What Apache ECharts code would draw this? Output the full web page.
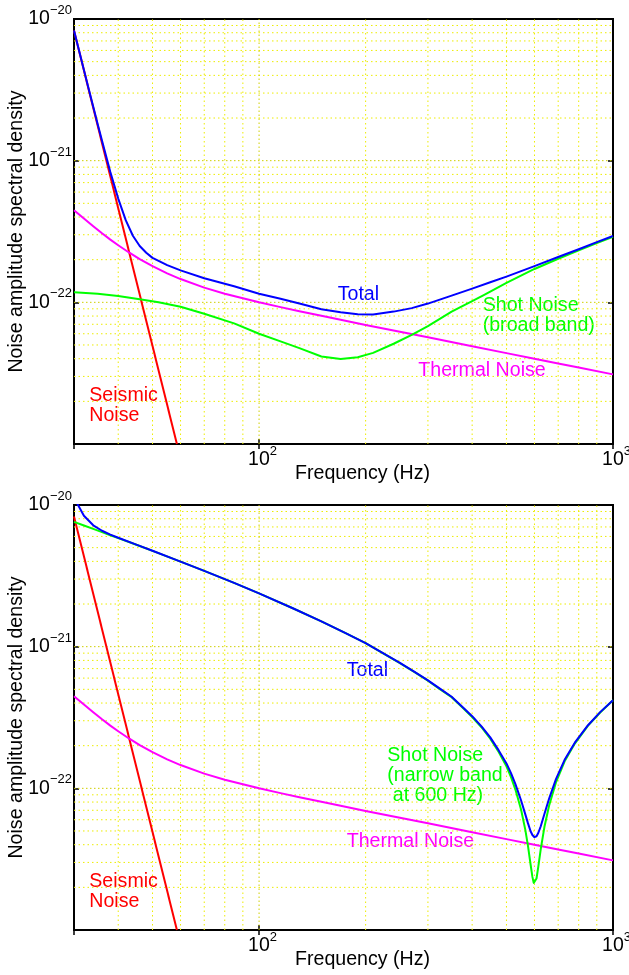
<!DOCTYPE html>
<html>
<head>
<meta charset="utf-8">
<title>Noise amplitude spectral density</title>
<script src="https://cdn.jsdelivr.net/npm/echarts@6/dist/echarts.min.js"></script>
<style>
    body { margin: 0; background: #fff; }
    #main { width: 629px; height: 975px; }
</style>
</head>
<body>
<div id="main"></div>
<script type="text/javascript">
// values: frequency in Hz, noise in 1/sqrt(Hz)
var seismicFreq = [30, 58.6];
var seismicNoise = [8.3e-21, 1.0e-23];

var thermalFreq = [30, 32, 34, 36, 38, 40, 43, 46, 50, 55, 60, 70, 80, 90, 100, 115, 130, 150, 170, 200, 250, 300, 400, 500, 600, 700, 800, 1000];
var thermalNoise = [4.47e-22, 3.90e-22, 3.44e-22, 3.07e-22, 2.77e-22, 2.53e-22, 2.24e-22, 2.02e-22, 1.80e-22, 1.60e-22, 1.46e-22, 1.27e-22, 1.15e-22, 1.07e-22, 1.00e-22, 9.25e-23, 8.66e-23, 8.03e-23, 7.54e-23, 6.93e-23, 6.20e-23, 5.66e-23, 4.90e-23, 4.38e-23, 4.00e-23, 3.70e-23, 3.47e-23, 3.10e-23];

// top panel: broad band shot noise and total
var broadFreq = [30, 35, 40, 46, 52, 60, 70, 85, 100, 115, 130, 150, 170, 190, 210, 240, 270, 300, 350, 400, 430, 500, 600, 700, 800, 900, 1000];
var shotBroad = [1.18e-22, 1.15e-22, 1.11e-22, 1.05e-22, 1.00e-22, 9.3e-23, 8.3e-23, 7.1e-23, 6.0e-23, 5.3e-23, 4.75e-23, 4.15e-23, 3.98e-23, 4.1e-23, 4.4e-23, 5.1e-23, 5.9e-23, 6.8e-23, 8.6e-23, 1.02e-22, 1.12e-22, 1.37e-22, 1.72e-22, 2.03e-22, 2.33e-22, 2.62e-22, 2.9e-22];

var totalBroadFreq = [30, 31, 32, 33, 34, 35, 36, 38, 40, 42, 44, 46, 48, 50, 55, 60, 70, 85, 100, 115, 130, 150, 170, 190, 210, 240, 270, 300, 350, 400, 450, 500, 600, 700, 800, 900, 1000];
var totalBroad = [8.3e-21, 6.0e-21, 4.37e-21, 3.22e-21, 2.40e-21, 1.81e-21, 1.38e-21, 8.3e-22, 5.4e-22, 3.8e-22, 2.95e-22, 2.5e-22, 2.24e-22, 2.06e-22, 1.83e-22, 1.68e-22, 1.48e-22, 1.30e-22, 1.15e-22, 1.06e-22, 9.8e-23, 8.95e-23, 8.5e-23, 8.25e-23, 8.2e-23, 8.6e-23, 9.1e-23, 9.8e-23, 1.115e-22, 1.25e-22, 1.385e-22, 1.52e-22, 1.80e-22, 2.09e-22, 2.37e-22, 2.66e-22, 2.94e-22];

// bottom panel: narrow band shot noise (600 Hz) and total
var narrowFreq = [30, 32, 34, 36, 38, 40, 45, 50, 60, 70, 85, 100, 125, 150, 175, 200, 250, 275, 300, 325, 350, 375, 400, 425, 450, 475, 500, 515, 530, 550, 565, 575, 585, 592, 597, 600, 603, 608, 615, 625, 640, 660, 690, 730, 780, 850, 920, 1000];
var shotNarrow = [7.6e-21, 7.17e-21, 6.78e-21, 6.43e-21, 6.12e-21, 5.84e-21, 5.24e-21, 4.74e-21, 3.98e-21, 3.43e-21, 2.82e-21, 2.38e-21, 1.86e-21, 1.51e-21, 1.25e-21, 1.06e-21, 7.65e-22, 6.61e-22, 5.75e-22, 5.0e-22, 4.4e-22, 3.74e-22, 3.19e-22, 2.70e-22, 2.24e-22, 1.81e-22, 1.43e-22, 1.2e-22, 9.8e-23, 7.06e-23, 5.13e-23, 3.94e-23, 2.9e-23, 2.37e-23, 2.15e-23, 2.1e-23, 2.13e-23, 2.31e-23, 2.79e-23, 3.72e-23, 5.33e-23, 7.57e-23, 1.1e-22, 1.55e-22, 2.07e-22, 2.77e-22, 3.43e-22, 4.18e-22];
var totalNarrow = [1.126e-20, 8.40e-21, 7.19e-21, 6.58e-21, 6.18e-21, 5.87e-21, 5.25e-21, 4.75e-21, 3.98e-21, 3.43e-21, 2.82e-21, 2.38e-21, 1.86e-21, 1.51e-21, 1.25e-21, 1.06e-21, 7.68e-22, 6.64e-22, 5.78e-22, 5.03e-22, 4.43e-22, 3.77e-22, 3.23e-22, 2.74e-22, 2.29e-22, 1.86e-22, 1.50e-22, 1.28e-22, 1.07e-22, 8.2e-23, 6.58e-23, 5.68e-23, 4.98e-23, 4.68e-23, 4.55e-23, 4.52e-23, 4.52e-23, 4.59e-23, 4.84e-23, 5.40e-23, 6.59e-23, 8.47e-23, 1.16e-22, 1.59e-22, 2.10e-22, 2.79e-22, 3.45e-22, 4.19e-22];

// axis ranges and grid lines (log axes: 2..9 of each decade, plus decades)
var freqRange = [30, 1000];
var levelRange = [1e-23, 1e-20];
var gridMinorFreq = [40, 50, 60, 70, 80, 90, 200, 300, 400, 500, 600, 700, 800, 900];
var gridMajorFreq = [100];
var gridMinorLevel = [2e-23, 3e-23, 4e-23, 5e-23, 6e-23, 7e-23, 8e-23, 9e-23,
                      2e-22, 3e-22, 4e-22, 5e-22, 6e-22, 7e-22, 8e-22, 9e-22,
                      2e-21, 3e-21, 4e-21, 5e-21, 6e-21, 7e-21, 8e-21, 9e-21];
var gridMajorLevel = [1e-22, 1e-21];

var FONT = '"Liberation Sans", Arial, Helvetica, sans-serif';
var FS = 19.6;

function pairs(xs, ys) {
    return xs.map(function (x, i) { return [x, ys[i]]; });
}

function pow10Label(v) {
    var l = Math.log10(v);
    if (!isFinite(l)) return '';
    var e = Math.round(l);
    if (Math.abs(l - e) > 1e-6) return '';
    return '{b|10}{s|' + (e < 0 ? '\u2212' + (-e) : e) + '}';
}

var richLabel = {
    b: { fontSize: 19.5, fontFamily: FONT, color: '#000', lineHeight: 30, verticalAlign: 'middle' },
    s: { fontSize: 13, fontFamily: FONT, color: '#000', lineHeight: 13, verticalAlign: 'top' }
};

var tickStyle = { show: true, inside: true, length: 5, lineStyle: { color: '#000', width: 1.5 } };

function xAxisCfg(gridIndex, position, withLabels) {
    return {
        type: 'log', logBase: 10, gridIndex: gridIndex, position: position,
        min: freqRange[0], max: freqRange[1],
        axisLine: { show: false },
        axisTick: tickStyle,
        splitLine: { show: false },
        axisLabel: withLabels ? {
            show: true, margin: 1, formatter: pow10Label, rich: richLabel,
            padding: [0, 0, 0, 7], showMinLabel: true, showMaxLabel: true
        } : { show: false }
    };
}

function yAxisCfg(gridIndex, position, withLabels) {
    return {
        type: 'log', logBase: 10, gridIndex: gridIndex, position: position,
        min: levelRange[0], max: levelRange[1],
        axisLine: { show: false },
        axisTick: tickStyle,
        splitLine: { show: false },
        axisLabel: withLabels ? {
            show: true, margin: 2, formatter: pow10Label, rich: richLabel,
            showMinLabel: true, showMaxLabel: true
        } : { show: false }
    };
}

// dotted grid drawn as broken polylines through the axes
function gridSeries(panel, freqs, levels, color, dash) {
    var data = [];
    freqs.forEach(function (f) {
        data.push([f, levelRange[0]], [f, levelRange[1]], [f, '-']);
    });
    levels.forEach(function (v) {
        data.push([freqRange[0], v], [freqRange[1], v], ['-', v]);
    });
    return {
        type: 'line', xAxisIndex: panel * 2, yAxisIndex: panel * 2,
        data: data, connectNulls: false, silent: true, z: 1,
        showSymbol: false, symbol: 'none', clip: true,
        lineStyle: { color: color, width: 1, type: dash },
        emphasis: { disabled: true }
    };
}

function curve(name, xs, ys, color, panel) {
    return {
        name: name, type: 'line',
        xAxisIndex: panel * 2, yAxisIndex: panel * 2,
        data: pairs(xs, ys),
        showSymbol: false, symbol: 'none', clip: true, z: 10,
        lineStyle: { color: color, width: 2, join: 'round' },
        emphasis: { disabled: true }
    };
}

function text(str, x, y, color) {
    return {
        type: 'text', x: x, y: y, silent: true,
        style: {
            text: str, fill: color, font: FS + 'px ' + FONT,
            align: 'left', verticalAlign: 'middle',
            textAlign: 'left', textVerticalAlign: 'middle', lineHeight: 20
        }
    };
}

function yTitle(y) {
    return {
        type: 'text', x: 17, y: y, rotation: Math.PI / 2, silent: true,
        style: {
            text: 'Noise amplitude spectral density', fill: '#000', font: FS + 'px ' + FONT,
            align: 'center', verticalAlign: 'middle',
            textAlign: 'center', textVerticalAlign: 'middle'
        }
    };
}

var myChart = echarts.init(document.getElementById('main'), null, { renderer: 'canvas' });

// fixed layout: keep the plot boxes where they are even if a label pokes out
var gridBase = { left: 74, width: 539, height: 425, show: true, backgroundColor: '#fff', borderColor: '#000', borderWidth: 2, containLabel: false, outerBoundsMode: 'none' };

var MINOR = '#eded00', MAJOR = '#cfcf00';

var option = {
    backgroundColor: '#fff',
    animation: false,
    grid: [
        Object.assign({ top: 19 }, gridBase),
        Object.assign({ top: 505 }, gridBase)
    ],
    xAxis: [
        xAxisCfg(0, 'bottom', true), xAxisCfg(0, 'top', false),
        xAxisCfg(1, 'bottom', true), xAxisCfg(1, 'top', false)
    ],
    yAxis: [
        yAxisCfg(0, 'left', true), yAxisCfg(0, 'right', false),
        yAxisCfg(1, 'left', true), yAxisCfg(1, 'right', false)
    ],
    series: [
        gridSeries(0, gridMinorFreq, gridMinorLevel, MINOR, [1.5, 3]),
        gridSeries(0, gridMajorFreq, gridMajorLevel, MAJOR, [1.5, 2.5]),
        curve('Seismic Noise', seismicFreq, seismicNoise, '#ff0000', 0),
        curve('Thermal Noise', thermalFreq, thermalNoise, '#ff00ff', 0),
        curve('Shot Noise', broadFreq, shotBroad, '#00ff00', 0),
        curve('Total', totalBroadFreq, totalBroad, '#0000ff', 0),

        gridSeries(1, gridMinorFreq, gridMinorLevel, MINOR, [1.5, 3]),
        gridSeries(1, gridMajorFreq, gridMajorLevel, MAJOR, [1.5, 2.5]),
        curve('Seismic Noise', seismicFreq, seismicNoise, '#ff0000', 1),
        curve('Thermal Noise', thermalFreq, thermalNoise, '#ff00ff', 1),
        curve('Shot Noise', narrowFreq, shotNarrow, '#00ff00', 1),
        curve('Total', narrowFreq, totalNarrow, '#0000ff', 1)
    ],
    graphic: [
        yTitle(231.5),
        yTitle(717.5),
        text('Frequency (Hz)', 295, 474, '#000'),
        text('Frequency (Hz)', 295, 960, '#000'),

        text('Total', 337.7, 294.7, '#0000ff'),
        text('Shot Noise\n(broad band)', 482.7, 315.5, '#00ff00'),
        text('Thermal Noise', 418.3, 370.5, '#ff00ff'),
        text('Seismic\nNoise', 89.3, 405.8, '#ff0000'),

        text('Total', 346.7, 670.8, '#0000ff'),
        text('Shot Noise\n(narrow band\n at 600 Hz)', 387.3, 775.8, '#00ff00'),
        text('Thermal Noise', 346.7, 841.7, '#ff00ff'),
        text('Seismic\nNoise', 89.3, 892, '#ff0000')
    ]
};

myChart.setOption(option);
</script>
</body>
</html>
